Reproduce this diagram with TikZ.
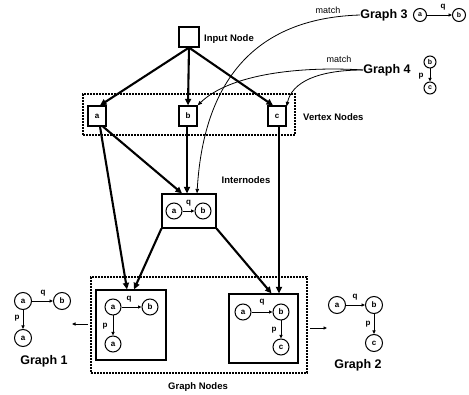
\documentclass[tikz,border=0pt]{standalone}
\usepackage{fontspec}
\setmainfont{Liberation Sans}
\usetikzlibrary{arrows.meta}
\begin{document}
\begin{tikzpicture}[x=1pt,y=-1pt,
  vbox/.style={draw, line width=1.2pt, minimum width=18pt, minimum height=20pt, inner sep=0pt, font=\bfseries\fontsize{8}{8}\selectfont},
  frame/.style={draw, line width=1.2pt, inner sep=0pt},
  dbox/.style={draw, line width=1.3pt, dash pattern=on 1.6pt off 1.4pt, inner sep=0pt},
  lbl/.style={font=\bfseries\fontsize{9.5}{10}\selectfont, inner sep=0pt},
  big/.style={font=\bfseries\fontsize{12.5}{12.5}\selectfont, inner sep=0pt},
  mlbl/.style={font=\fontsize{9}{9}\selectfont, inner sep=0pt},
  el/.style={font=\bfseries\fontsize{8}{8}\selectfont, inner sep=0pt},
  gc/.style={circle, draw, line width=1pt, minimum size=16pt, inner sep=0pt, font=\bfseries\fontsize{8}{8}\selectfont},
  thickarr/.style={line width=2.1pt, -{Triangle[length=6.5pt,width=6pt]}},
  thinarr/.style={line width=0.8pt, -{Triangle[length=4.5pt,width=3.5pt]}},
  edge/.style={line width=0.8pt, -{Triangle[length=3.5pt,width=3pt]}}
]
\useasboundingbox (0,0) rectangle (469,395);

% input node
\node[vbox, minimum width=20pt] (in) at (189,37) {};
\node[lbl, anchor=west] (inl) at (204,39) {Input Node};

% vertex nodes
\node[dbox, minimum width=212pt, minimum height=41pt] (vn) at (189,114.5) {};
\node[vbox] (va) at (97,116) {a};
\node[vbox] (vb) at (188,116) {b};
\node[vbox] (vc) at (277,116) {c};
\node[lbl, anchor=west] (vnl) at (303,117) {Vertex Nodes};

% internode
\node[frame, minimum width=54pt, minimum height=34pt] (inter) at (189,211) {};
\node[gc] (ia) at (174,211) {a};
\node[gc] (ib) at (203,211) {b};
\draw[edge] (ia) -- (ib);
\node[el] (iq) at (188.5,203) {q};
\node[lbl] (intl) at (246,180) {Internodes};

% graph nodes
\node[dbox, minimum width=216pt, minimum height=96pt] (gn) at (199,325) {};
\node[lbl] (gnl) at (198,387) {Graph Nodes};
\node[frame, minimum width=70pt, minimum height=70pt] (g1) at (131,325) {};
\node[gc] (g1a) at (113,307) {a};
\node[gc] (g1b) at (150,307) {b};
\node[gc] (g1c) at (113,344) {a};
\draw[edge] (g1a) -- (g1b);
\draw[edge] (g1a) -- (g1c);
\node[el] (g1q) at (129,299) {q};
\node[el] (g1p) at (105,326) {p};

\node[frame, minimum width=69pt, minimum height=69pt] (g2) at (263.5,328.5) {};
\node[gc] (g2a) at (243,312) {a};
\node[gc] (g2b) at (281,312) {b};
\node[gc] (g2c) at (281,347) {c};
\draw[edge] (g2a) -- (g2b);
\draw[edge] (g2b) -- (g2c);
\node[el] (g2q) at (262,302) {q};
\node[el] (g2p) at (274,330) {p};

% Graph 1
\node[gc, minimum size=17pt] (ra) at (23,301) {a};
\node[gc, minimum size=17pt] (rb) at (62,301) {b};
\node[gc, minimum size=17pt] (rc) at (23,338) {a};
\draw[edge] (ra) -- (rb);
\draw[edge] (ra) -- (rc);
\node[el] (rq) at (43,293) {q};
\node[el] (rp) at (17,318) {p};
\node[big] (g1l) at (44,361) {Graph 1};
\coordinate (o1s) at (88,324);
\coordinate (o1e) at (72,324);
\draw[edge] (o1s) -- (o1e);

% Graph 2
\node[gc, minimum size=17pt] (sa) at (337,305) {a};
\node[gc, minimum size=17pt] (sb) at (374,305) {b};
\node[gc, minimum size=17pt] (sc) at (374,343) {c};
\draw[edge] (sa) -- (sb);
\draw[edge] (sb) -- (sc);
\node[el] (sq) at (355,297) {q};
\node[el] (sp) at (368,324) {p};
\node[big] (g2l) at (358,365) {Graph 2};
\coordinate (o2s) at (310,328);
\coordinate (o2e) at (327,328);
\draw[edge] (o2s) -- (o2e);

% Graph 3
\node[big] (g3l) at (384,15) {Graph 3};
\node[mlbl] (m3) at (328,10) {match};
\node[gc, minimum size=13pt, font=\bfseries\fontsize{7}{7}\selectfont] (ta) at (420,15) {a};
\node[gc, minimum size=13pt, font=\bfseries\fontsize{7}{7}\selectfont] (tb) at (459,15) {b};
\draw[edge] (ta) -- (tb);
\node[el] (tq) at (443,7) {q};

% Graph 4
\node[big] (g4l) at (387,70) {Graph 4};
\node[mlbl] (m4) at (339,59) {match};
\node[gc, minimum size=12pt, font=\bfseries\fontsize{7}{7}\selectfont] (ua) at (430,62) {b};
\node[gc, minimum size=12pt, font=\bfseries\fontsize{7}{7}\selectfont] (ub) at (430,88) {c};
\draw[edge] (ua) -- (ub);
\node[el] (up) at (421,76) {p};

% thick arrows
\draw[thickarr] (in.south) -- ([xshift=3pt]va.north);
\draw[thickarr] (in.south) -- (vb.north);
\draw[thickarr] (in.south) -- ([xshift=-4pt]vc.north);
\draw[thickarr] ([xshift=3pt]va.south) -- ([xshift=-4pt]g1.north);
\draw[thickarr] ([xshift=6pt]va.south) -- ([xshift=-7pt]inter.north);
\draw[thickarr] ([xshift=-1pt]vb.south) -- ([xshift=-2pt]inter.north);
\draw[thickarr] (inter.south west) -- ([xshift=3pt]g1.north);
\draw[thickarr] (inter.south east) -- ([xshift=8pt]g2.north);
\draw[thickarr] ([xshift=2pt]vc.south) -- ([xshift=2pt]vc.south |- g2.north);

% match curves
\draw[thinarr] (g3l.west) .. controls (260,18) and (204,75) .. ([xshift=8pt]inter.north);
\draw[thinarr] (g4l.west) .. controls (300,66) and (230,74) .. (vb.north east);
\draw[thinarr] (g4l.west) .. controls (318,70) and (292,82) .. ([yshift=-1pt]vc.north east);
\end{tikzpicture}
\end{document}
